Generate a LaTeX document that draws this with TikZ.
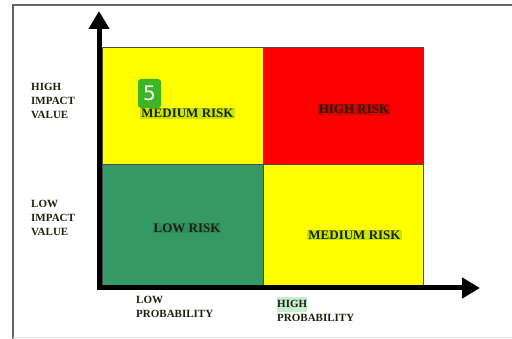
\documentclass[tikz,border=0pt]{standalone}
\usepackage{fontspec}
\setmainfont{Liberation Serif}
\newfontfamily\badgefont{DejaVu Sans}
\usetikzlibrary{arrows.meta}
\definecolor{cyel}{HTML}{FFFF00}
\definecolor{cred}{HTML}{FF0000}
\definecolor{cgrn}{HTML}{359966}
\definecolor{hlyel}{HTML}{C8E800}
\definecolor{hlred}{HTML}{D00000}
\definecolor{hlgrn}{HTML}{2F8F5C}
\definecolor{hlhigh}{HTML}{C6EFCE}
\definecolor{txt}{HTML}{1E2010}
\definecolor{badge}{HTML}{3DB524}
\tikzset{
  cell/.style={draw=black!70, line width=0.8pt, inner sep=0pt, outer sep=0pt, anchor=north west},
  risk/.style={font=\fontsize{13}{14}\selectfont\bfseries, text=txt, inner sep=1pt},
  side/.style={font=\fontsize{11}{14}\selectfont\bfseries, text=txt, align=left, anchor=north west, inner sep=0pt},
  axis/.style={line width=5pt, -{Triangle[length=18pt,width=20pt]}},
}
\begin{document}
\begin{tikzpicture}[x=1pt,y=-1pt]
\useasboundingbox (0,0) rectangle (512,339);
\fill[white] (0,0) rectangle (512,339);
% frame
\draw[black!60, line width=1.2pt] (13,339) -- (13,5) -- (512,5);
\draw[black!12, line width=0.8pt] (13,337.5) -- (512,337.5);
% cells
\node[cell, fill=cyel, minimum width=161pt, minimum height=117pt] (tl) at (102,47) {};
\node[cell, fill=cred, minimum width=160pt, minimum height=117pt] (tr) at (263,47) {};
\node[cell, fill=cgrn, minimum width=161pt, minimum height=121pt] (bl) at (102,164) {};
\node[cell, fill=cyel, minimum width=160pt, minimum height=121pt] (br) at (263,164) {};
% axes
\coordinate (o) at (99,290.5);
\coordinate (ytip) at (99,11);
\coordinate (ox) at (96.5,288);
\coordinate (xtip) at (480,288);
\draw[axis] (o) -- (ytip);
\draw[axis] (ox) -- (xtip);
% cell labels
\node[risk, fill=hlyel] (m1) at (187.5,113.5) {MEDIUM RISK};
\node[risk, fill=hlred] (h1) at (354,109.5) {HIGH RISK};
\node[risk, fill=hlgrn] (l1) at (187,228) {LOW RISK};
\node[risk, fill=hlyel] (m2) at (354.5,235) {MEDIUM RISK};
% side labels
\node[side] (hi) at (31,83) {HIGH\\IMPACT\\VALUE};
\node[side] (lo) at (31,200) {LOW\\IMPACT\\VALUE};
\node[side] (lp) at (136,296.5) {LOW\\PROBABILITY};
\node[side] (hp) at (277,296.5) {\colorbox{hlhigh}{\hspace{-3pt}\rule[-2pt]{0pt}{9.5pt}HIGH\hspace{-3pt}}\\PROBABILITY};
% badge
\node[fill=badge, rounded corners=3pt, minimum width=23pt, minimum height=29pt, inner sep=0pt, text=white, font=\badgefont\fontsize{20}{20}\selectfont] (b5) at (149.5,93.5) {5};
\end{tikzpicture}
\end{document}
